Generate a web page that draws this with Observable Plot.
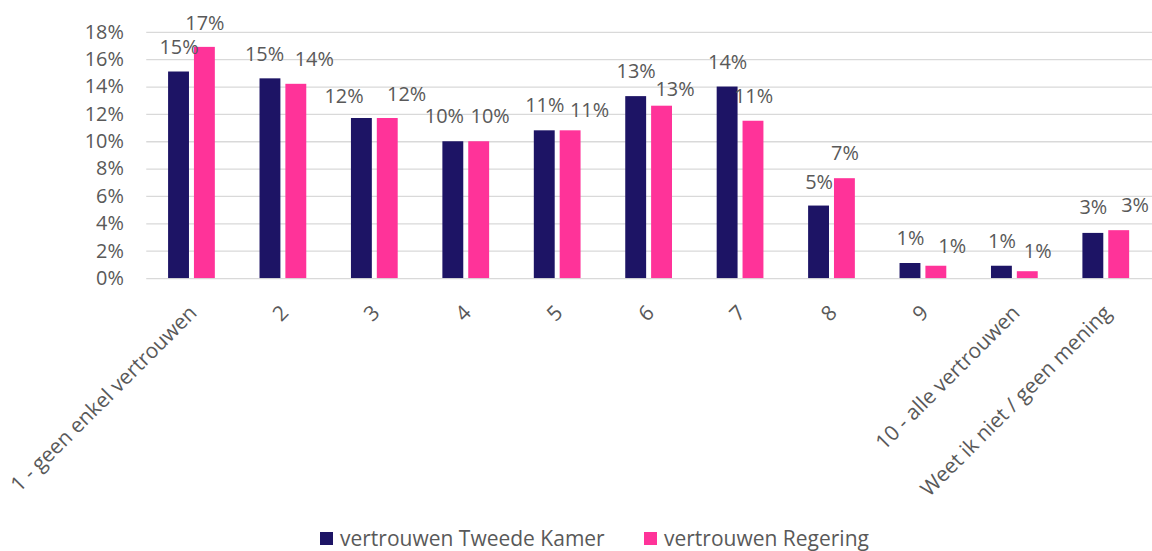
<!DOCTYPE html>
<html>
<head>
<meta charset="utf-8">
<script src="https://cdn.jsdelivr.net/npm/d3@7"></script>
<script src="https://cdn.jsdelivr.net/npm/@observablehq/plot@0.6"></script>
<style>
  html, body { margin: 0; padding: 0; background: #fff; overflow: hidden; width: 1152px; height: 551px; }
  #chart svg { display: block; }
  .legend { position: relative; height: 27px; font-family: "Open Sans", sans-serif; font-size: 21px; color: #595959; }
  .legend .item { position: absolute; top: 7px; display: flex; align-items: center; height: 20px; line-height: 20px; white-space: nowrap; }
  .legend .sw { width: 13px; height: 13px; margin-right: 7px; }
</style>
</head>
<body>
<div id="chart"></div>
<div class="legend" id="legend"></div>
<script>
// ---- data ----
const categories = ["1 - geen enkel vertrouwen", "2", "3", "4", "5", "6", "7", "8", "9", "10 - alle vertrouwen", "Weet ik niet / geen mening"];
const seriesNames = ["vertrouwen Tweede Kamer", "vertrouwen Regering"];
const tweedeKamer = [15.1, 14.6, 11.7, 10.0, 10.8, 13.3, 14.0, 5.3, 1.1, 0.9, 3.3];
const regering    = [16.9, 14.2, 11.7, 10.0, 10.8, 12.6, 11.5, 7.3, 0.9, 0.5, 3.5];
const labelsTweedeKamer = ["15%", "15%", "12%", "10%", "11%", "13%", "14%", "5%", "1%", "1%", "3%"];
const labelsRegering    = ["17%", "14%", "12%", "10%", "11%", "13%", "11%", "7%", "1%", "1%", "3%"];
const yTicks = [0, 2, 4, 6, 8, 10, 12, 14, 16, 18];

// ---- styling / layout ----
const colors = ["#1d1465", "#ff3399"];
const textColor = "#595959";
const font = "Open Sans, sans-serif";
const W = 1158, H = 524, ML = 147, MR = 0, MT = 32, MB = H - 279.5;
const step = (W - ML - MR) / categories.length;
// manual label nudges (as in the original chart)
const nudgeX = [[0, -6, -18, -9, 0, 0, 0, 0, 0, 0, 0], [0, 18, 19, 11, 19, 13, 0, 0, 16, 10, 16]];
const lift   = [[25, 24, 22, 25, 25, 25, 25, 24, 25, 25, 26], [24, 25, 24, 25, 20, 17, 25, 25, 20, 20, 25]];

const rows = [];
[tweedeKamer, regering].forEach((vals, s) => {
  const labs = s === 0 ? labelsTweedeKamer : labelsRegering;
  vals.forEach((v, i) => rows.push({cat: categories[i], series: seriesNames[s], s, i, value: v, label: labs[i]}));
});
const navyRows = rows.filter(d => d.s === 0);
const pinkRows = rows.filter(d => d.s === 1);

const chart = Plot.plot({
  width: W, height: H,
  marginLeft: ML, marginRight: MR, marginTop: MT, marginBottom: MB,
  style: {fontFamily: font, fontSize: "20px", color: textColor, background: "#fff", overflow: "visible"},
  x: {type: "band", domain: categories, padding: 0, round: false},
  y: {domain: [0, 18]},
  marks: [
    Plot.gridY(yTicks, {stroke: "#d9d9d9", strokeOpacity: 1, strokeWidth: 1.3}),
    Plot.barY(navyRows, {x: "cat", y: "value", fill: colors[0], insetLeft: step / 2 - 24, insetRight: step / 2 + 3}),
    Plot.barY(pinkRows, {x: "cat", y: "value", fill: colors[1], insetLeft: step / 2 + 2, insetRight: step / 2 - 23}),
    ...rows.map(d => Plot.text([d], {
      x: "cat", y: "value", text: "label",
      dx: (d.s === 0 ? -13.5 : 12.5) + nudgeX[d.s][d.i],
      dy: -lift[d.s][d.i],
      fill: textColor, fontSize: 20, lineAnchor: "middle"
    })),
    Plot.axisY({ticks: yTicks, tickFormat: d => d + "%", tickSize: 0, tickPadding: 23, fontSize: 20, fill: textColor, label: null}),
    Plot.axisX({tickRotate: -45, tickSize: 0, tickPadding: 31, fontSize: 21, fill: textColor, label: null, dx: 1})
  ]
});
document.getElementById("chart").appendChild(chart);

// legend
const legend = document.getElementById("legend");
const legendX = [320, 644];
seriesNames.forEach((name, s) => {
  const item = document.createElement("div");
  item.className = "item";
  item.style.left = legendX[s] + "px";
  const sw = document.createElement("span");
  sw.className = "sw";
  sw.style.background = colors[s];
  const t = document.createElement("span");
  t.textContent = name;
  item.appendChild(sw);
  item.appendChild(t);
  legend.appendChild(item);
});
</script>
</body>
</html>
